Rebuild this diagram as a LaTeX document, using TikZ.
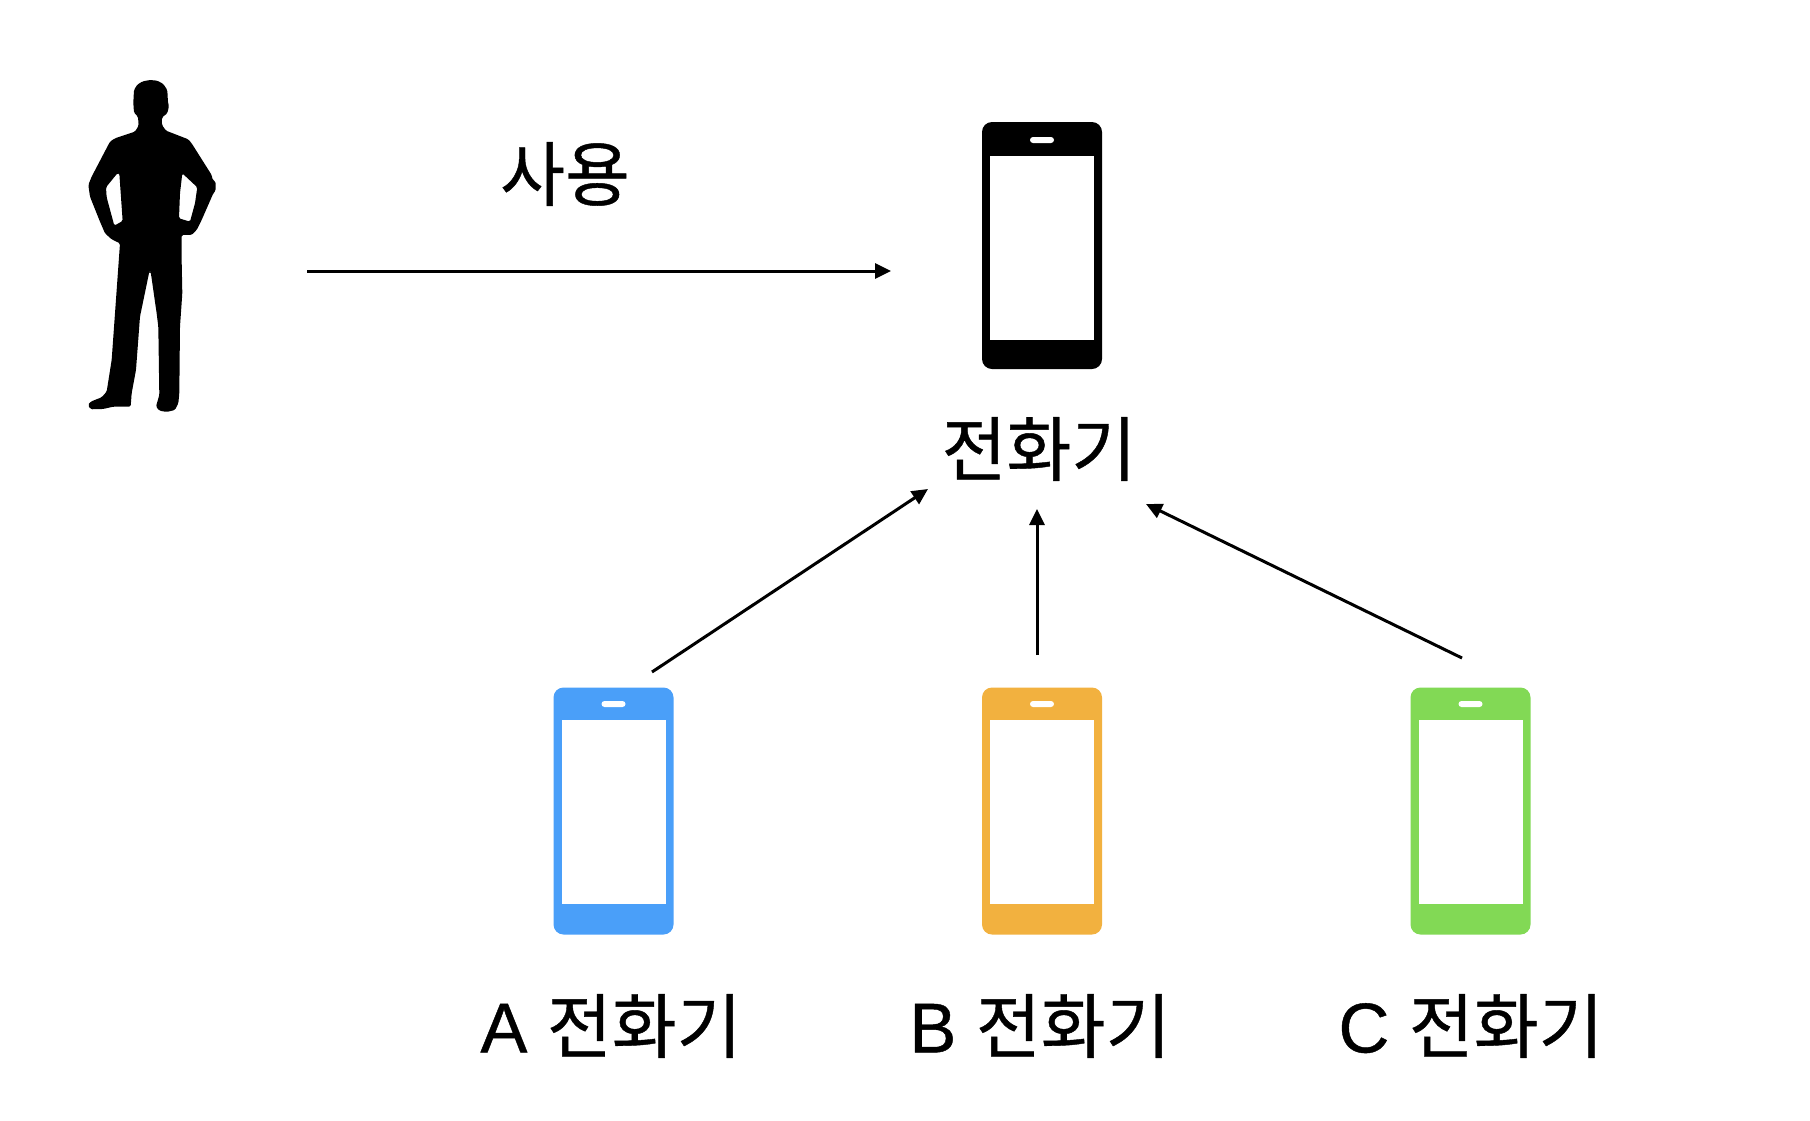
\documentclass[tikz,border=0pt]{standalone}
\usepackage{fontspec}
\usetikzlibrary{arrows.meta,positioning}
\setmainfont[FakeBold=0.6]{Liberation Sans}
\newfontfamily\krfont[FakeBold=0.6]{Noto Sans CJK KR}
\definecolor{phblue}{HTML}{4A9FF9}
\definecolor{phorange}{HTML}{F2B13F}
\definecolor{phgreen}{HTML}{82D955}
\tikzset{
  body/.style={fill=#1,draw=none,rectangle,rounded corners=10pt,minimum width=120pt,minimum height=247pt,inner sep=0pt},
  screen/.style={fill=white,draw=none,rectangle,minimum width=#1,minimum height=184pt,inner sep=0pt},
  slot/.style={fill=white,draw=none,rectangle,rounded corners=3pt,minimum width=24pt,minimum height=6pt,inner sep=0pt},
  lbl/.style={inner sep=0pt,font=\fontsize{70.5pt}{74pt}\selectfont},
  conn/.style={draw=black,line width=3pt,-{Triangle[length=16pt,width=15pt]}}
}
\begin{document}
\begin{tikzpicture}[x=1pt,y=-1pt]
\useasboundingbox (0,0) rectangle (1810,1120);
\fill[white] (0,0) rectangle (1810,1120);
% person
\begin{scope}[shift={(60,60)},x=0.3333pt,y=-0.3333pt]
\fill[black,even odd rule,rounded corners=1.5pt]
 (270,60) -- (292,62) -- (310,72) -- (322,90) -- (324,128) -- (327,138) -- (322,160) -- (306,172) -- (306,195) -- (318,212) -- (385,238) -- (395,250) -- (455,345) -- (458,360) -- (467,365) -- (467,392) -- (460,400) -- (425,480) -- (410,510) -- (395,525) -- (365,525) -- (365,600) -- (367,700) -- (360,800) -- (358,1000) -- (355,1030) -- (345,1050) -- (320,1056) -- (298,1052) -- (288,1040) -- (298,1005) -- (295,800) -- (290,760) -- (272,635) -- (268,635) -- (240,770) -- (228,930) -- (215,1000) -- (212,1040) -- (160,1040) -- (130,1047) -- (92,1048) -- (84,1035) -- (92,1025) -- (125,1012) -- (140,995) -- (155,900) -- (165,760) -- (180,550) -- (155,538) -- (135,520) -- (120,485) -- (90,410) -- (85,375) -- (95,350) -- (150,245) -- (165,235) -- (225,215) -- (236,197) -- (234,170) -- (222,158) -- (220,128) -- (222,90) -- (232,74) -- (248,64) -- cycle
 (178,340) -- (172,340) -- (138,382) -- (140,412) -- (163,497) -- (188,483) -- cycle
 (367,340) -- (412,382) -- (405,430) -- (390,485) -- (357,475) -- (360,400) -- cycle;
\end{scope}
% main phone
\node[body=black] (main) at (1042,245.5) {};
\node[screen=104pt] (mains) at (1042,248) {};
\node[slot] (mainslot) at (1042,140) {};
% coloured phones
\node[body=phblue] (pa) at (613.5,811) {};
\node[screen=104pt] (pas) at (613.5,812) {};
\node[slot] (paslot) at (613.5,704) {};
\node[body=phorange] (pb) at (1042,811) {};
\node[screen=104pt] (pbs) at (1042,812) {};
\node[slot] (pbslot) at (1042,704) {};
\node[body=phgreen] (pc) at (1470.5,811) {};
\node[screen=104pt] (pcs) at (1470.5,812) {};
\node[slot] (pcslot) at (1470.5,704) {};
% labels
\node[lbl] (use) at (565,174) {\krfont 사용};
\node[lbl] (lmain) at (1039,449) {\krfont 전화기};
\node[lbl] (la) at (611,1026) {A \krfont 전화기};
\node[lbl] (lb) at (1040,1026) {B \krfont 전화기};
\node[lbl] (lc) at (1471,1026) {C \krfont 전화기};
% connector ends
\coordinate (s0) at (307,271); \coordinate (e0) at (891,271);
\coordinate (s1) at (652,672); \coordinate (e1) at (928,489);
\coordinate (s2) at (1037,655); \coordinate (e2) at (1037,509);
\coordinate (s3) at (1462,658); \coordinate (e3) at (1146,504);
\draw[conn] (s0) -- (e0);
\draw[conn] (s1) -- (e1);
\draw[conn] (s2) -- (e2);
\draw[conn] (s3) -- (e3);
\end{tikzpicture}
\end{document}
